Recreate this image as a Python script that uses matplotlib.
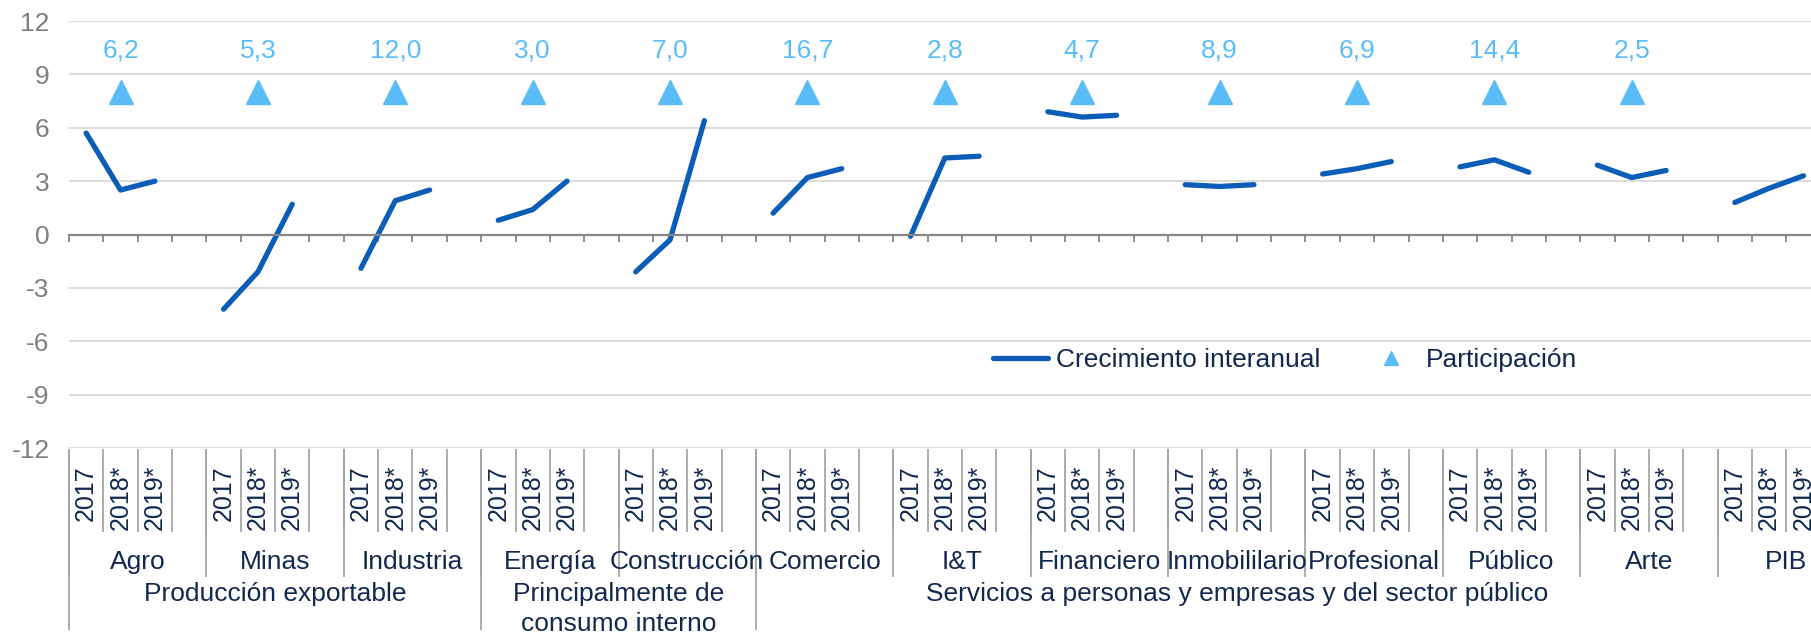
import numpy as np
import matplotlib
matplotlib.use('Agg')
import matplotlib.pyplot as plt
import matplotlib.transforms as mtransforms

plt.rcParams['font.family'] = ['Liberation Sans', 'DejaVu Sans']
plt.rcParams['axes.unicode_minus'] = False

# Datos
categorias = ['Agro', 'Minas', 'Industria', 'Energía', 'Construcción', 'Comercio', 'I&T',
              'Financiero', 'Inmobililario', 'Profesional', 'Público', 'Arte', 'PIB']
anios = ['2017', '2018*', '2019*']
crec_2017 = [5.7, -4.2, -1.9, 0.8, -2.1, 1.2, -0.1, 6.9, 2.8, 3.4, 3.8, 3.9, 1.8]
crec_2018 = [2.5, -2.1, 1.9, 1.4, -0.3, 3.2, 4.3, 6.6, 2.7, 3.7, 4.2, 3.2, 2.6]
crec_2019 = [3.0, 1.7, 2.5, 3.0, 6.4, 3.7, 4.4, 6.7, 2.8, 4.1, 3.5, 3.6, 3.3]
participacion = [6.2, 5.3, 12.0, 3.0, 7.0, 16.7, 2.8, 4.7, 8.9, 6.9, 14.4, 2.5, np.nan]
grupos = ['Producción exportable', 'Principalmente de\nconsumo interno',
          'Servicios a personas y empresas y del sector público', '']
grupos_n = [3, 2, 7, 1]  # categorías por grupo

AZUL = '#0B5DB7'
CELESTE = '#5BBDF7'
NAVY = '#13284F'
GRIS = '#7F7F7F'

W, H = 1811, 637
fig = plt.figure(figsize=(W / 100, H / 100), dpi=100)
ax = fig.add_axes([69 / W, 1 - 448 / H, 1786 / W, 427 / H])

slots = 4  # 3 años + hueco
for i in range(len(categorias)):
    xs = i * slots + np.arange(len(anios)) + 0.5
    ys = [crec_2017[i], crec_2018[i], crec_2019[i]]
    ax.plot(xs, ys, color=AZUL, lw=3.8, solid_capstyle='round', solid_joinstyle='round',
            label='Crecimiento interanual' if i == 0 else None)

# triangulos de participacion a altura fija
marca_y = 8
part = np.array(participacion)
x_part = np.arange(len(categorias)) * slots + 1.5
ok = ~np.isnan(part)
ax.plot(x_part[ok], np.full(ok.sum(), marca_y), '^', ms=17, color=CELESTE,
        linestyle='none', label='Participación')
for x, v in zip(x_part[ok], part[ok]):
    ax.annotate(f'{v:.1f}'.replace('.', ','), (x, marca_y), xytext=(0, 30),
                textcoords='offset points', ha='center', va='center',
                fontsize=19, color=CELESTE)

ax.set_xlim(0, len(categorias) * slots)
ax.set_ylim(-12, 12)
ax.set_yticks(range(-12, 13, 3))
ax.grid(axis='y', color='#D9D9D9', lw=1.3)
ax.set_axisbelow(True)
for s in ['left', 'right', 'top']:
    ax.spines[s].set_visible(False)
ax.spines['bottom'].set_position(('data', 0))
ax.spines['bottom'].set_color('#868686')
ax.spines['bottom'].set_linewidth(1.6)
ax.set_xticks(np.arange(0, len(categorias) * slots + 1))
ax.tick_params(axis='x', direction='out', length=5, width=1.3, color='#868686',
               labelbottom=False)
ax.tick_params(axis='y', length=0, pad=14, labelsize=19, labelcolor=GRIS)

# etiquetas jerarquicas bajo el grafico
trans = mtransforms.blended_transform_factory(ax.transData, fig.transFigure)


def fy(px):
    return 1 - px / H


sep = '#A6A6A6'
n_slots = len(categorias) * slots
ax.vlines(np.arange(0, n_slots), fy(532), fy(449), colors=sep, lw=1.3,
          transform=trans, clip_on=False)
ax.vlines(np.arange(0, n_slots, slots), fy(577), fy(449), colors=sep, lw=1.3,
          transform=trans, clip_on=False)
bordes = np.cumsum([0] + grupos_n) * slots
ax.vlines(bordes[:-2], fy(630), fy(449), colors=sep, lw=1.3,
          transform=trans, clip_on=False)

for i, cat in enumerate(categorias):
    for j, a in enumerate(anios):
        ax.text(i * slots + j + 0.5, fy(465), a, transform=trans, rotation=90,
                ha='center', va='top', fontsize=18, color=NAVY, clip_on=False)
    ax.text(i * slots + slots / 2, fy(562), cat, transform=trans, ha='center',
            va='center', fontsize=19, color=NAVY)

for g, ini, fin in zip(grupos, bordes[:-1], bordes[1:]):
    ax.text((ini + fin) / 2, fy(582), g, transform=trans, ha='center', va='top',
            fontsize=19, color=NAVY, linespacing=1.3)

ax.legend(loc='center', bbox_to_anchor=(0.681, 0.206), ncol=2, frameon=False,
          fontsize=19, handlelength=2.1, handletextpad=0.3, columnspacing=1.6,
          markerscale=0.6, labelcolor=NAVY)

fig.savefig('out.png', dpi=100)
